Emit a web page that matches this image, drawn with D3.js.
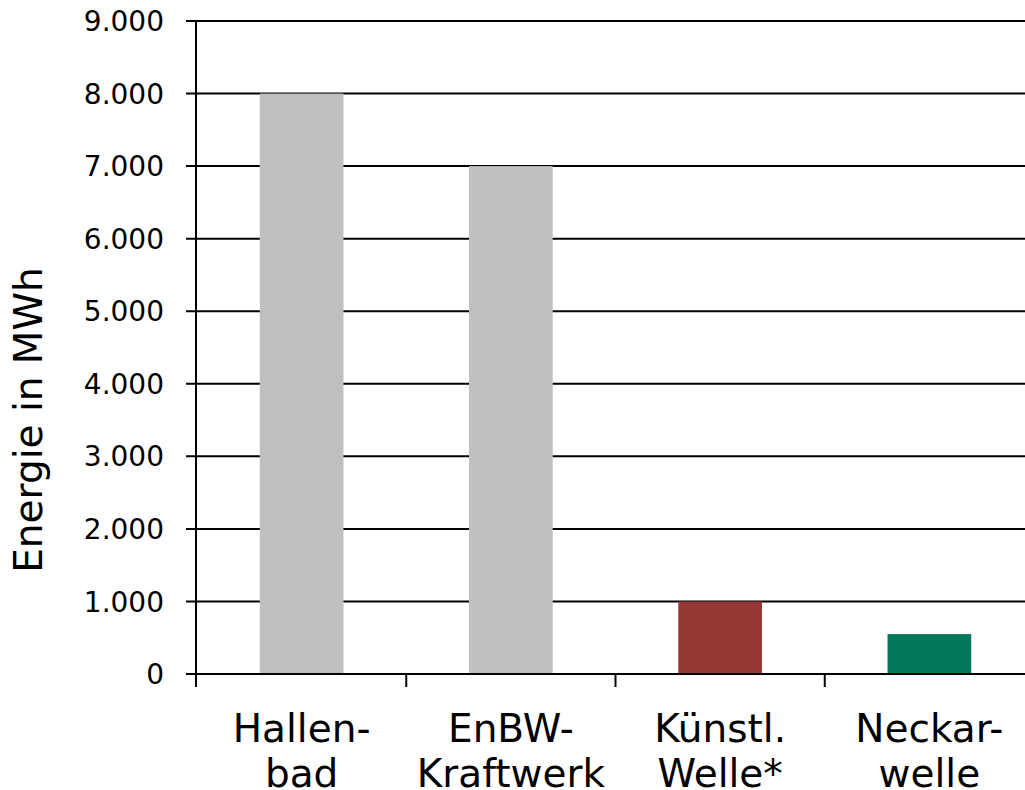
<!DOCTYPE html>
<html>
<head>
<meta charset="utf-8">
<script src="https://cdn.jsdelivr.net/npm/d3@7"></script>
<style>
  html, body { margin: 0; padding: 0; background: #fff; }
  svg { display: block; font-family: "DejaVu Sans", Verdana, sans-serif; }
</style>
</head>
<body>
<svg id="chart" width="1025" height="790"></svg>
<script>
// Energy per installation (MWh)
const categories = ["Hallen-\nbad", "EnBW-\nKraftwerk", "Künstl.\nWelle*", "Neckar-\nwelle"];
const values = [8000, 7000, 1000, 550];
const barColors = ["#bfbfbf", "#bfbfbf", "#953735", "#03795a"];
const yTicks = [0, 1000, 2000, 3000, 4000, 5000, 6000, 7000, 8000, 9000];
const yTitle = "Energie in MWh";

const svg = d3.select("#chart");
const plotLeft = 197, plotRight = 1034, plotTop = 21, plotBottom = 674;

const x = d3.scaleBand()
  .domain(categories)
  .range([plotLeft, plotRight])
  .paddingInner(0.6)
  .paddingOuter(0.3);

const y = d3.scaleLinear().domain([0, 9000]).range([plotBottom, plotTop]);

const fmt = d => d === 0 ? "0" : d3.format(",")(d).replace(/,/g, ".");

// horizontal gridlines with outward tick marks
svg.append("g")
  .selectAll("line")
  .data(yTicks)
  .join("line")
  .attr("x1", plotLeft - 11)
  .attr("x2", 1025)
  .attr("y1", d => y(d))
  .attr("y2", d => y(d))
  .attr("stroke", "#000")
  .attr("stroke-width", 2);

// bars
svg.append("g")
  .selectAll("rect")
  .data(categories)
  .join("rect")
  .attr("x", d => x(d))
  .attr("width", x.bandwidth())
  .attr("y", (d, i) => y(values[i]))
  .attr("height", (d, i) => y(0) - y(values[i]))
  .attr("fill", (d, i) => barColors[i]);

// baseline redrawn over bars
svg.append("line")
  .attr("x1", plotLeft - 11).attr("x2", 1025)
  .attr("y1", y(0)).attr("y2", y(0))
  .attr("stroke", "#000").attr("stroke-width", 2);

// vertical axis line
svg.append("line")
  .attr("x1", plotLeft - 1).attr("x2", plotLeft - 1)
  .attr("y1", plotTop).attr("y2", plotBottom + 13)
  .attr("stroke", "#000").attr("stroke-width", 2);

// category separators below the baseline
const step = x.step();
const bounds = categories.map(c => x(c) + x.bandwidth() / 2 - step / 2).slice(1);
svg.append("g")
  .selectAll("line")
  .data(bounds)
  .join("line")
  .attr("x1", d => d).attr("x2", d => d)
  .attr("y1", plotBottom).attr("y2", plotBottom + 13)
  .attr("stroke", "#000").attr("stroke-width", 2);

// y tick labels
svg.append("g")
  .selectAll("text")
  .data(yTicks)
  .join("text")
  .attr("x", 164)
  .attr("y", d => y(d))
  .attr("dy", "0.36em")
  .attr("text-anchor", "end")
  .attr("font-size", 28)
  .attr("fill", "#000")
  .text(fmt);

// category labels (two lines)
const cat = svg.append("g")
  .selectAll("text")
  .data(categories)
  .join("text")
  .attr("text-anchor", "middle")
  .attr("font-size", 39)
  .attr("fill", "#000");
cat.selectAll("tspan")
  .data(d => d.split("\n").map(t => ({ t, c: d })))
  .join("tspan")
  .attr("x", d => x(d.c) + x.bandwidth() / 2)
  .attr("y", (d, i) => 742 + i * 45)
  .text(d => d.t);

// y axis title
svg.append("text")
  .attr("transform", "translate(42,420) rotate(-90)")
  .attr("text-anchor", "middle")
  .attr("font-size", 39)
  .attr("fill", "#000")
  .text(yTitle);
</script>
</body>
</html>
